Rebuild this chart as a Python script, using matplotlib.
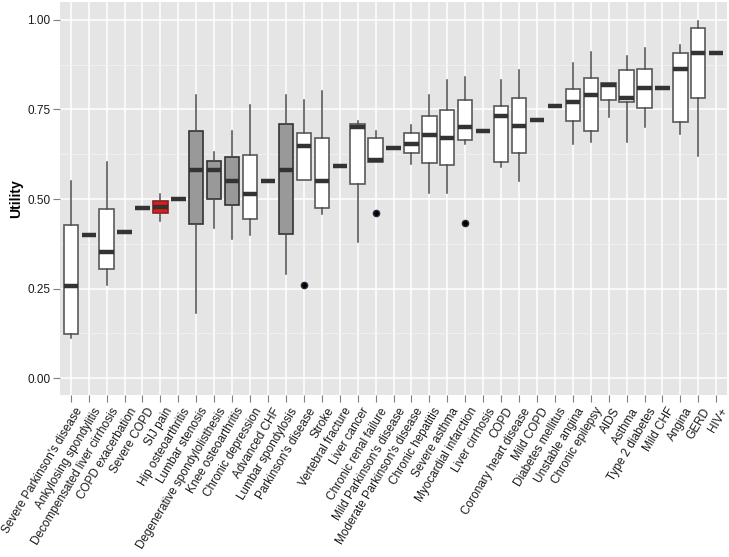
import matplotlib
matplotlib.use("Agg")
import matplotlib.pyplot as plt
from matplotlib.transforms import ScaledTranslation

plt.rcParams['font.family'] = ['Liberation Sans', 'DejaVu Sans']

conditions = ["Severe Parkinson's disease", "Ankylosing spondylitis", "Decompensated liver cirrhosis",
              "COPD exacerbation", "Severe COPD", "SIJ pain", "Hip osteoarthritis", "Lumbar stenosis",
              "Degenerative spondylolisthesis", "Knee osteoarthritis", "Chronic depression", "Advanced CHF",
              "Lumbar spondylosis", "Parkinson's disease", "Stroke", "Vertebral fracture", "Liver cancer",
              "Chronic renal failure", "Mild Parkinson's disease", "Moderate Parkinson's disease",
              "Chronic hepatitis", "Severe asthma", "Myocardial infarction", "Liver cirrhosis", "COPD",
              "Coronary heart disease", "Mild COPD", "Diabetes mellitus", "Unstable angina",
              "Chronic epilepsy", "AIDS", "Asthma", "Type 2 diabetes", "Mild CHF", "Angina", "GERD", "HIV+"]

whis_lo = [0.112, 0.401, 0.259, 0.407, 0.476, 0.440, 0.500, 0.181, 0.418, 0.388, 0.400, 0.549,
           0.291, 0.553, 0.458, 0.591, 0.379, 0.603, 0.643, 0.599, 0.518, 0.518, 0.654, 0.690,
           0.589, 0.549, 0.720, 0.760, 0.654, 0.660, 0.730, 0.660, 0.700, 0.809, 0.682, 0.619, 0.909]
q1 = [0.122, 0.401, 0.305, 0.407, 0.476, 0.460, 0.500, 0.429, 0.500, 0.483, 0.444, 0.549,
      0.402, 0.553, 0.474, 0.591, 0.541, 0.603, 0.643, 0.628, 0.600, 0.595, 0.664, 0.690,
      0.603, 0.628, 0.720, 0.760, 0.718, 0.691, 0.777, 0.770, 0.755, 0.809, 0.715, 0.781, 0.909]
median = [0.258, 0.401, 0.352, 0.407, 0.476, 0.477, 0.500, 0.581, 0.580, 0.550, 0.515, 0.549,
          0.580, 0.649, 0.549, 0.591, 0.701, 0.608, 0.643, 0.654, 0.679, 0.670, 0.702, 0.690,
          0.731, 0.705, 0.720, 0.760, 0.770, 0.790, 0.819, 0.782, 0.809, 0.809, 0.862, 0.909, 0.909]
q3 = [0.428, 0.401, 0.473, 0.407, 0.476, 0.495, 0.500, 0.691, 0.605, 0.617, 0.624, 0.549,
      0.710, 0.683, 0.671, 0.591, 0.709, 0.671, 0.643, 0.683, 0.733, 0.749, 0.776, 0.690,
      0.761, 0.781, 0.720, 0.760, 0.808, 0.839, 0.825, 0.860, 0.863, 0.809, 0.909, 0.978, 0.909]
whis_hi = [0.549, 0.401, 0.602, 0.407, 0.476, 0.514, 0.500, 0.791, 0.632, 0.689, 0.762, 0.549,
           0.791, 0.777, 0.802, 0.591, 0.719, 0.689, 0.643, 0.707, 0.791, 0.832, 0.840, 0.690,
           0.832, 0.860, 0.720, 0.760, 0.879, 0.910, 0.825, 0.900, 0.921, 0.809, 0.930, 0.998, 0.909]
outliers = {"Parkinson's disease": [0.26], "Chronic renal failure": [0.462],
            "Myocardial infarction": [0.433]}

grey_boxes = ["Lumbar stenosis", "Degenerative spondylolisthesis", "Knee osteoarthritis", "Lumbar spondylosis"]
red_boxes = ["SIJ pain"]

stats = []
for i, name in enumerate(conditions):
    stats.append(dict(label=name, whislo=whis_lo[i], q1=q1[i], med=median[i], q3=q3[i],
                      whishi=whis_hi[i], fliers=outliers.get(name, [])))

fig = plt.figure(figsize=(7.29, 5.57), dpi=100)
ax = fig.add_axes([60 / 729, (557 - 395) / 557, 667 / 729, 393 / 557])
ax.set_facecolor('#E5E5E5')
for s in ax.spines.values():
    s.set_visible(False)

pos = list(range(1, len(conditions) + 1))
bp = ax.bxp(stats, positions=pos, widths=0.8, patch_artist=True, showcaps=False,
            boxprops=dict(facecolor='white', edgecolor='#595959', linewidth=1.2),
            whiskerprops=dict(color='#4D4D4D', linewidth=1.1),
            medianprops=dict(color='#333333', linewidth=3.2, solid_capstyle='butt'),
            flierprops=dict(marker='o', markerfacecolor='black', markeredgecolor='#2b2b40',
                            markersize=4.5, linestyle='none'),
            zorder=3)
for name, box in zip(conditions, bp['boxes']):
    if name in grey_boxes:
        box.set_facecolor('#999999')
        box.set_edgecolor('#333333')
    elif name in red_boxes:
        box.set_facecolor('#E41A1C')
        box.set_edgecolor('#8B2020')

ax.set_xlim(0.4, len(conditions) + 0.6)
ax.set_ylim(-0.047, 1.05)
ax.set_yticks([0, 0.25, 0.5, 0.75, 1.0])
ax.set_yticklabels(['0.00', '0.25', '0.50', '0.75', '1.00'])
ax.set_yticks([0.125, 0.375, 0.625, 0.875], minor=True)
ax.grid(True, which='major', color='white', linewidth=1.1, zorder=0)
ax.grid(True, which='minor', axis='y', color='#F2F2F2', linewidth=0.6, zorder=0)
ax.set_axisbelow(True)

ax.tick_params(axis='both', which='major', length=5, color='#7F7F7F', labelsize=8.5,
               labelcolor='#1a1a1a', pad=2)
ax.tick_params(axis='y', which='minor', length=0)
ax.set_xticks(pos)
ax.set_xticklabels(conditions, rotation=59, ha='right', va='top', rotation_mode='anchor', fontsize=8.5)
shift = ScaledTranslation(4 / 100, -1 / 100, fig.dpi_scale_trans)
for lbl in ax.get_xticklabels():
    lbl.set_transform(lbl.get_transform() + shift)
ax.set_ylabel('Utility', fontsize=10, fontweight='bold', labelpad=3)

fig.savefig('out.png', dpi=100)
